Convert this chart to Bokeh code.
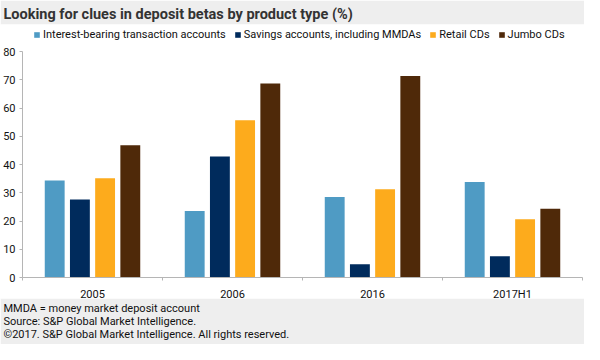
from bokeh.plotting import figure
from bokeh.models import (Range1d, FixedTicker, Legend, LegendItem, Title, ColumnDataSource)
from bokeh.embed import file_html
from bokeh.resources import INLINE

# ---------------- data ----------------
periods = ["2005", "2006", "2016", "2017H1"]
series_names = ["Interest-bearing transaction accounts",
                "Savings accounts, including MMDAs",
                "Retail CDs", "Jumbo CDs"]
interest_bearing = [34.3, 23.5, 28.5, 33.8]
savings = [27.6, 42.8, 4.7, 7.5]
retail_cds = [35.1, 55.7, 31.2, 20.6]
jumbo_cds = [46.8, 68.7, 71.3, 24.3]
y_ticks = [0, 10, 20, 30, 40, 50, 60, 70, 80]

title_text = "Looking for clues in deposit betas by product type (%)"
footer_lines = ["MMDA = money market deposit account",
                "Source: S&P Global Market Intelligence.",
                "\u00a92017. S&P Global Market Intelligence. All rights reserved."]

# ---------------- style / layout constants ----------------
colors = ["#4f9bc4", "#002b5c", "#fdab1c", "#4f2909"]
GRAY = "#eeeeee"
AX = "#b5b5b5"
FONT = "Roboto"
W, H = 584, 344
TOP_BAND, BOTTOM_BAND = 24, 46          # gray title / footer bands
FRAME_H = H - TOP_BAND - BOTTOM_BAND    # white panel height
X0_PX, UNIT_X = 22, 140.0               # x=0 offset inside panel, px per category
Y0_PX, YTOP_PX = 21, 27                 # y=0 above panel bottom, y=80 below panel top
PX_PER_Y = (FRAME_H - Y0_PX - YTOP_PX) / 80.0

x_range = Range1d(-X0_PX / UNIT_X, (W - X0_PX) / UNIT_X)
y_range = Range1d(-Y0_PX / PX_PER_Y, (FRAME_H - Y0_PX) / PX_PER_Y)

p = figure(width=W, height=H, x_range=x_range, y_range=y_range,
           toolbar_location=None, output_backend="svg",
           min_border_left=0, min_border_right=0,
           min_border_top=TOP_BAND, min_border_bottom=BOTTOM_BAND)
p.outline_line_color = None
p.background_fill_color = "white"
p.border_fill_color = GRAY
p.grid.visible = False

# title
p.title = Title(text=title_text, align="left", offset=3, standoff=3,
                text_font=FONT, text_font_size="14.5px", text_font_style="bold",
                text_color="#333333")

offsets = [-0.27, -0.09, 0.09, 0.27]
all_series = [interest_bearing, savings, retail_cds, jumbo_cds]
items = []
for k, (vals, col, name) in enumerate(zip(all_series, colors, series_names)):
    src = ColumnDataSource(dict(x=[i + 0.5 + offsets[k] for i in range(len(periods))], top=vals))
    r = p.vbar(x="x", top="top", bottom=0, width=0.142, source=src,
               fill_color=col, line_color=None)
    items.append(LegendItem(label=name, renderers=[r]))

legend = Legend(items=items, orientation="horizontal", location=(33, FRAME_H - 17),
                glyph_width=7, glyph_height=7, label_standoff=3, spacing=8,
                label_text_font=FONT, label_text_font_size="11px",
                label_text_color="#111111", label_height=12, padding=0, margin=0,
                border_line_color=None, background_fill_alpha=0)
p.add_layout(legend, "center")

# y axis
p.yaxis.fixed_location = 0
p.yaxis.ticker = FixedTicker(ticks=y_ticks)
p.yaxis.bounds = (0, 80)
p.yaxis.axis_line_color = AX
p.yaxis.major_tick_line_color = AX
p.yaxis.major_tick_out = 3
p.yaxis.major_tick_in = 0
p.yaxis.minor_tick_line_color = None
p.yaxis.major_label_standoff = 4
p.yaxis.major_label_text_font = FONT
p.yaxis.major_label_text_font_size = "11px"
p.yaxis.major_label_text_color = "#111111"

# x axis
centers = [i + 0.5 for i in range(len(periods))]
p.xaxis.fixed_location = 0
p.xaxis.ticker = FixedTicker(ticks=centers, minor_ticks=list(range(len(periods) + 1)))
p.xaxis.major_label_overrides = {c: lab for c, lab in zip(centers, periods)}
p.xaxis.bounds = (0, len(periods))
p.xaxis.axis_line_color = AX
p.xaxis.major_tick_line_color = None
p.xaxis.major_tick_out = 0
p.xaxis.major_tick_in = 0
p.xaxis.minor_tick_line_color = AX
p.xaxis.minor_tick_out = 3
p.xaxis.minor_tick_in = 0
p.xaxis.major_label_standoff = 7
p.xaxis.major_label_text_font = FONT
p.xaxis.major_label_text_font_size = "11px"
p.xaxis.major_label_text_color = "#111111"

# footer notes (one multi-line title below the white panel)
p.add_layout(Title(text="\n".join(footer_lines), align="left", offset=3, standoff=3,
                   text_font=FONT, text_font_size="11px", text_font_style="normal",
                   text_line_height=1.0, text_color="#111111"), "below")

html = file_html(p, INLINE)
html = html.replace("<body>", '<body style="background-color:#eeeeee;">', 1)
open("out.html", "w").write(html)
